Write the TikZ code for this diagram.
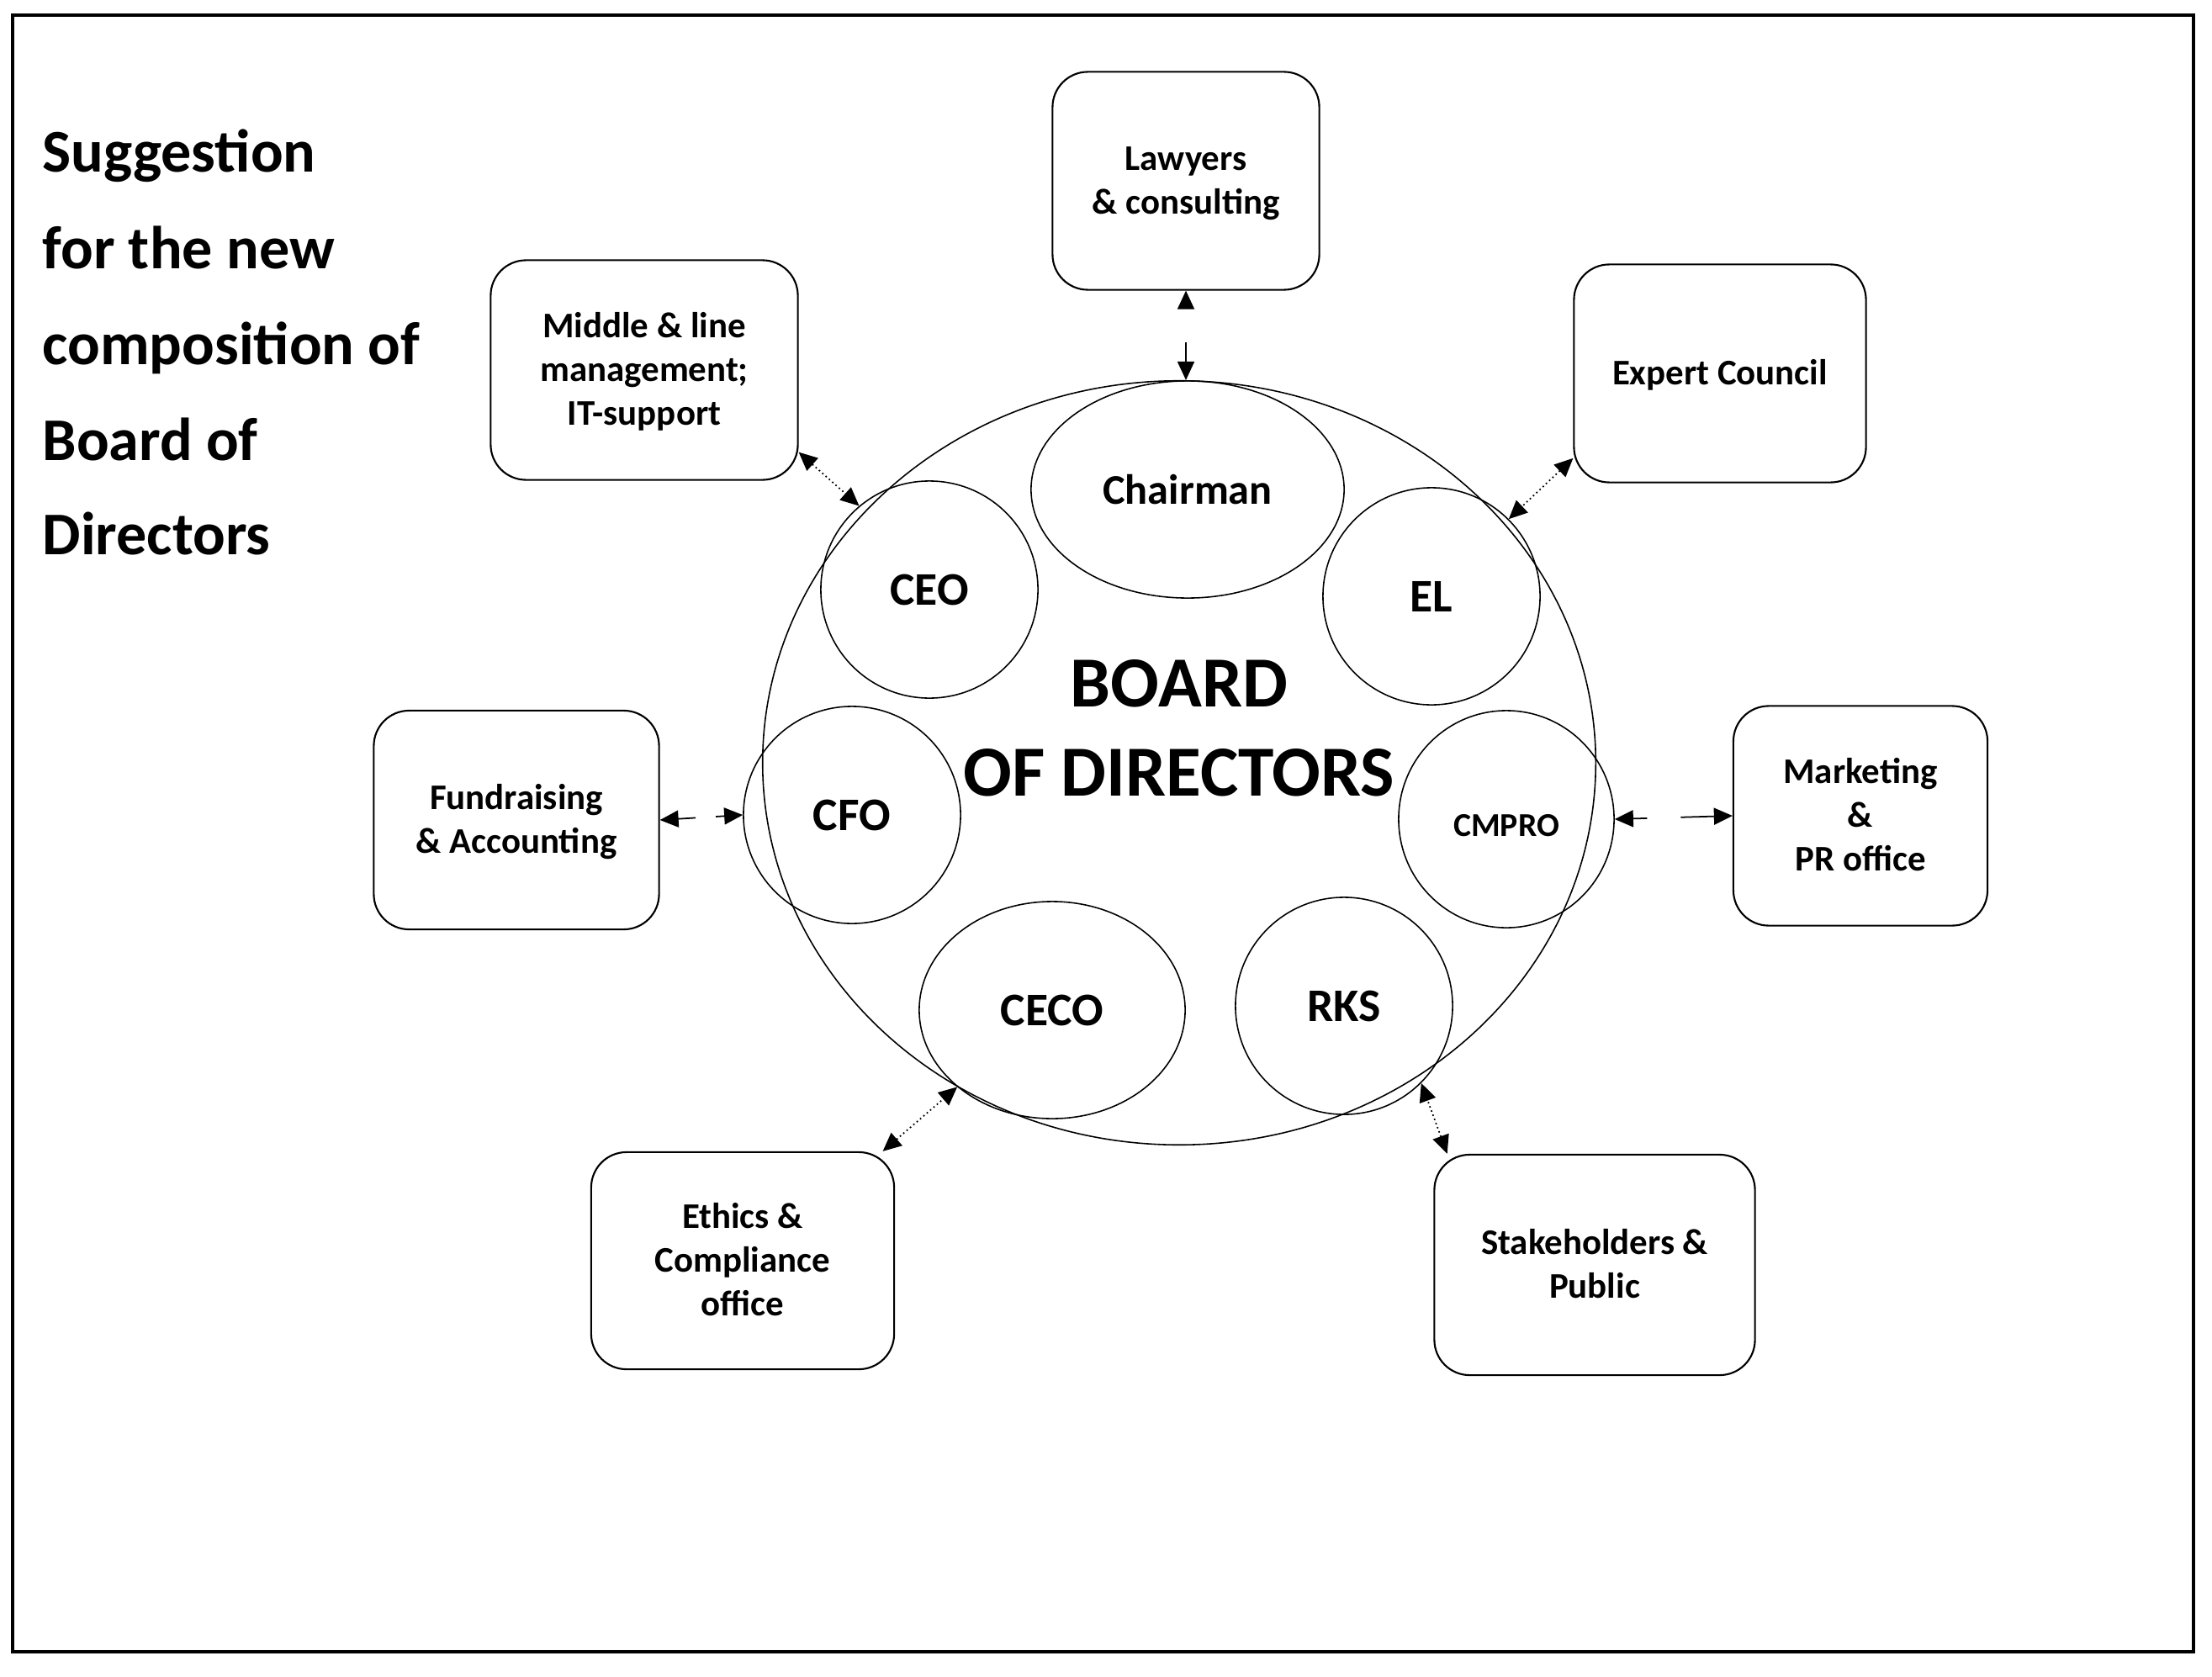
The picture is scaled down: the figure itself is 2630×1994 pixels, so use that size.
\documentclass[tikz,border=0pt]{standalone}
\usepackage{fontspec}
\setmainfont{Carlito}
\usetikzlibrary{arrows.meta,shapes.geometric}
\newcommand{\bl}[1]{\raisebox{0pt}[0.644em][0pt]{#1}}
\begin{document}
\begin{tikzpicture}[x=0.01cm,y=-0.01cm,
  box/.style={draw,line width=0.6pt,rounded corners=0.42cm,align=center,inner sep=0pt,
    font=\fontsize{12.2}{14.8}\selectfont\bfseries},
  circ/.style={draw,ellipse,line width=0.45pt,inner sep=0pt,
    font=\fontsize{15.8}{18}\selectfont\bfseries},
  link/.style={line width=0.5pt,{Triangle[length=0.22cm,width=0.2cm]}-{Triangle[length=0.22cm,width=0.2cm]}},
  dotlink/.style={link,densely dotted},
  titleline/.style={anchor=base west,inner sep=0pt,font=\fontsize{20.5}{24}\selectfont\bfseries}]
\useasboundingbox (0,0) rectangle (2630,1994);
\draw[line width=1.2pt] (15,18) rectangle (2608,1964);

% title
\node[titleline] (t1) at (50,205) {Suggestion};
\node[titleline] (t2) at (50,319) {for the new};
\node[titleline] (t3) at (50,433) {composition of};
\node[titleline] (t4) at (50,547) {Board of};
\node[titleline] (t5) at (50,659) {Directors};

% board
\node[draw,ellipse,line width=0.45pt,minimum width=9.9cm,minimum height=9.08cm] (big) at (1402,907) {};
\node[align=center,inner sep=0pt,font=\fontsize{24.3}{30.2}\selectfont\bfseries] (board) at (1402,866) {BOARD\\OF DIRECTORS};

\node[circ,minimum width=3.72cm,minimum height=2.58cm,font=\fontsize{14.3}{17}\selectfont\bfseries] (chair) at (1412,582) {Chairman};
\node[circ,minimum width=2.58cm,minimum height=2.58cm] (ceo) at (1105,701) {CEO};
\node[circ,minimum width=2.58cm,minimum height=2.58cm] (el) at (1702,709) {EL};
\node[circ,minimum width=2.58cm,minimum height=2.58cm] (cfo) at (1013,969) {CFO};
\node[circ,minimum width=2.56cm,minimum height=2.58cm,text height=0.4cm,text depth=0cm,
  font=\fontsize{11.3}{14}\selectfont\bfseries] (cmpro) at (1791,974) {CMPRO};
\node[circ,minimum width=3.16cm,minimum height=2.58cm] (ceco) at (1251,1201) {CECO};
\node[circ,minimum width=2.58cm,minimum height=2.58cm] (rks) at (1598,1196) {RKS};

% boxes
\node[box,minimum width=3.17cm,minimum height=2.59cm] (law) at (1410,215) {\bl{Lawyers}\\\bl{\& consulting}};
\node[box,minimum width=3.65cm,minimum height=2.61cm] (mid) at (766,440) {\bl{Middle \& line}\\\bl{management;}\\\bl{IT-support}};
\node[box,minimum width=3.47cm,minimum height=2.59cm] (exp) at (2045,444) {\bl{Expert Council}};
\node[box,minimum width=3.39cm,minimum height=2.60cm] (fund) at (614,975) {\bl{Fundraising}\\\bl{\& Accounting}};
\node[box,minimum width=3.02cm,minimum height=2.61cm] (mkt) at (2212,970) {\bl{Marketing}\\\bl{\&}\\\bl{PR office}};
\node[box,minimum width=3.60cm,minimum height=2.58cm] (eth) at (883,1499) {\bl{Ethics \&}\\\bl{Compliance}\\\bl{office}};
\node[box,minimum width=3.81cm,minimum height=2.62cm] (stk) at (1896,1504) {\bl{Stakeholders \&}\\\bl{Public}};

% connectors
\draw[link,dash pattern=on 0.4cm off 0.4cm,dash phase=0.4cm] (law.south) -- (law.south |- big.north);
\draw[link,dash pattern=on 0.21cm off 0.24cm on 0.3cm off 0.1cm] (fund.east) -- (cfo.west);
\draw[link,dash pattern=on 0.17cm off 0.4cm on 0.6cm off 0.1cm] (cmpro.east) -- (mkt.west);
\draw[dotlink] (mid.-28) -- (ceo.130);
\draw[dotlink] (exp.-150) -- (el.45);
\draw[dotlink] (eth.38) -- (ceco.-141);
\draw[dotlink] (stk.143) -- (rks.-45);
\end{tikzpicture}
\end{document}
